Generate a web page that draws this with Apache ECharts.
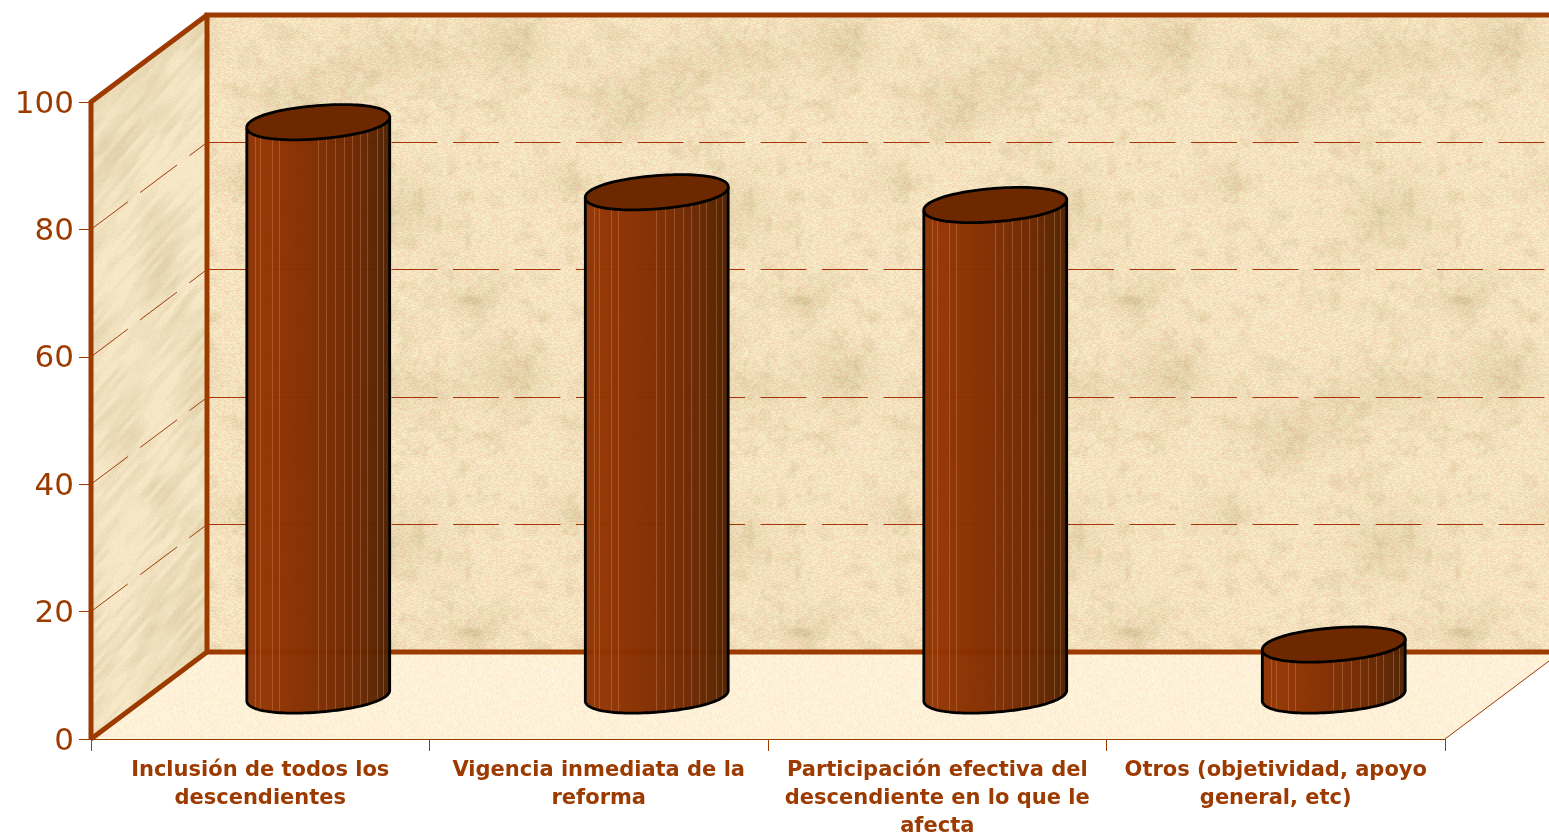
<!DOCTYPE html>
<html>
<head>
<meta charset="utf-8">
<style>html,body{margin:0;padding:0;background:#fff;overflow:hidden}#c{width:1549px;height:835px}</style>
<script src="https://cdn.jsdelivr.net/npm/echarts@6/dist/echarts.min.js"></script>
</head>
<body>
<div id="c"></div>
<script>
var categories = [
  'Inclusión de todos los\ndescendientes',
  'Vigencia inmediata de la\nreforma',
  'Participación efectiva del\ndescendiente en lo que le\nafecta',
  'Otros (objetividad, apoyo\ngeneral, etc)'
];
var values = [90, 79, 77, 8];
var gridValues = [20, 40, 60, 80];
var stripeOffsets = [9, 14, 26, 33, 71.5, 80, 89, 98, 106, 114, 121, 131, 137];

// Perspective of the box: how far the back wall sits behind the axis plane.
var DX = 116, DY = -87;
var RED = '#9c3a00';

// Deterministic texture, used only as wall decoration.
function hash(x, y, s) {
  var n = Math.sin(x * 127.1 + y * 311.7 + s * 74.7) * 43758.5453;
  return n - Math.floor(n);
}
function vnoise(x, y, px, py, s) {
  var xi = Math.floor(x), yi = Math.floor(y), fx = x - xi, fy = y - yi;
  fx = fx * fx * (3 - 2 * fx); fy = fy * fy * (3 - 2 * fy);
  function h(a, b) { return hash(((a % px) + px) % px, ((b % py) + py) % py, s); }
  return (h(xi, yi) * (1 - fx) + h(xi + 1, yi) * fx) * (1 - fy) + (h(xi, yi + 1) * (1 - fx) + h(xi + 1, yi + 1) * fx) * fy;
}
function clamp01(v) { return Math.max(0, Math.min(1, v)); }
function wrapDist(a, b, p) { var d = Math.abs(a - b) % p; return Math.min(d, p - d); }

function backTexture() {
  var w = 330, h = 332, c = document.createElement('canvas'); c.width = w; c.height = h;
  var g = c.getContext('2d'), im = g.createImageData(w, h), d = im.data, i = 0;
  var blobs = [[140, 300, 11, 5, 0.8], [140, 300, 30, 18, 0.35], [180, 43, 38, 28, 0.5], [70, 210, 42, 34, 0.45], [300, 100, 50, 30, 0.4], [230, 180, 30, 20, 0.25], [60, 60, 60, 25, 0.35]];
  for (var y = 0; y < h; y++) for (var x = 0; x < w; x++) {
    var n = 0.55 * vnoise(x / w * 22, y / h * 22, 22, 22, 3) + 0.45 * vnoise(x / w * 55, y / h * 55, 55, 55, 4);
    var m = clamp01((n - 0.47) * 2.6) * 0.42;
    blobs.forEach(function (b) {
      var dx = wrapDist(x, b[0], w) / b[2], dy = wrapDist(y, b[1], h) / b[3];
      m += b[4] * Math.exp(-(dx * dx + dy * dy));
    });
    m = clamp01(m);
    var bx = Math.floor(x / 2), by = y;
    var r = hash(bx, by, 5) - 0.5, r2 = hash(bx, by, 6) - 0.5;
    d[i++] = 246 + (218 - 246) * m + r * 8;
    d[i++] = 227 + (199 - 227) * m + r2 * 26;
    d[i++] = 192 + (156 - 192) * m + r2 * 18 + r * 16;
    d[i++] = 255;
  }
  g.putImageData(im, 0, 0);
  return c;
}
function sideTexture() {
  var w = 240, h = 800, c = document.createElement('canvas'); c.width = w; c.height = h;
  var g = c.getContext('2d'), im = g.createImageData(w, h), d = im.data, i = 0;
  var cs = Math.cos(0.85), sn = Math.sin(0.85);
  for (var y = 0; y < h; y++) for (var x = 0; x < w; x++) {
    var along = x * cs - y * sn + 2000, perp = x * sn + y * cs;
    var n = 0.5 * vnoise(along / 28, perp / 4, 1000, 1000, 7) + 0.5 * vnoise(x / 40, y / 55, 1000, 1000, 8);
    var m = clamp01((n - 0.34) * 1.9) * 0.75;
    var r = hash(x, y, 9) - 0.5;
    d[i++] = 246 + (220 - 246) * m + r * 7;
    d[i++] = 231 + (204 - 231) * m + r * 8;
    d[i++] = 198 + (164 - 198) * m + r * 12;
    d[i++] = 255;
  }
  g.putImageData(im, 0, 0);
  return c;
}
function floorTexture() {
  var w = 200, h = 200, c = document.createElement('canvas'); c.width = w; c.height = h;
  var g = c.getContext('2d'), im = g.createImageData(w, h), d = im.data, i = 0;
  for (var y = 0; y < h; y++) for (var x = 0; x < w; x++) {
    var r = hash(Math.floor(x / 2), y, 11) - 0.5, r2 = hash(x, Math.floor(y / 2), 12) - 0.5;
    d[i++] = 254 + r * 3;
    d[i++] = 241 + r2 * 14;
    d[i++] = 216 + r * 16 + r2 * 8;
    d[i++] = 255;
  }
  g.putImageData(im, 0, 0);
  return c;
}
var backTile = backTexture(), sideTile = sideTexture(), floorTile = floorTexture();

var chart = echarts.init(document.getElementById('c'), null, { renderer: 'canvas', width: 1549, height: 835 });

function poly(points, fill) {
  return { type: 'polygon', shape: { points: points }, style: { fill: { image: fill, repeat: 'repeat' }, stroke: null }, silent: true };
}
function line(points, width, color, dash) {
  return { type: 'polyline', shape: { points: points }, silent: true, style: { fill: null, stroke: color, lineWidth: width, lineDash: dash || null, lineJoin: 'miter' } };
}

function renderBox(params, api) {
  var cs = params.coordSys, l = cs.x, r = cs.x + cs.width, t = cs.y, b = cs.y + cs.height;
  var bl = l + DX, br = r + DX, bt = t + DY, bb = b + DY;
  return { type: 'group', children: [
    poly([[bl, bt], [br, bt], [br, bb], [bl, bb]], backTile),
    poly([[l, b], [r, b], [br, bb], [bl, bb]], floorTile),
    poly([[l, t], [bl, bt], [bl, bb], [l, b]], sideTile),
    line([[r, b], [br, bb]], 1, RED),
    line([[br, bt], [bl, bt], [bl, bb], [br, bb]], 5, RED),
    line([[l, b], [l, t], [bl, bt]], 5, RED),
    line([[l, b], [bl, bb]], 5, RED)
  ]};
}
function renderGrid(params, api) {
  var p = api.coord([0, api.value(1)]), cs = params.coordSys, x = cs.x, y = p[1];
  var backY = Math.floor(y + DY) + 0.5, dash = [46, 15.5];
  return { type: 'group', children: [
    line([[x, y], [x + DX, backY]], 1, '#a33a0c', dash),
    line([[x + DX, backY], [x + cs.width + DX, backY]], 1, '#a8340a', dash)
  ]};
}
function ellipsePts(cx, cy, a, b, rot, from, to, n) {
  var out = [], c = Math.cos(rot), s = Math.sin(rot), pw = 0.95;
  function sp(v) { return (v < 0 ? -1 : 1) * Math.pow(Math.abs(v), pw); }
  for (var i = 0; i <= n; i++) {
    var t = from + (to - from) * i / n, ex = a * sp(Math.cos(t)), ey = b * sp(Math.sin(t));
    out.push([cx + ex * c - ey * s, cy + ex * s + ey * c]);
  }
  return out;
}
function renderBar(params, api) {
  var i = api.value(0), v = api.value(1);
  var top = api.coord([i, v]), base = api.coord([i, 0]);
  var cx = top[0] + DX / 2, ty = top[1] + DY / 2, by = base[1] + DY / 2;
  var a = 71.7, b = 16.6, rot = -4.55 * Math.PI / 180;
  var t0 = Math.atan2(b * Math.sin(rot), a * Math.cos(rot)); // t of rightmost point
  var tEnd = t0 + Math.PI;
  var lowerTop = ellipsePts(cx, ty, a, b, rot, t0, tEnd, 60);
  var lowerBase = ellipsePts(cx, by, a, b, rot, t0, tEnd, 60);
  var body = lowerBase.concat(lowerTop.slice().reverse());
  var left = lowerTop[60][0];
  function yAt(arr, x) {
    var best = arr[0];
    arr.forEach(function (p) { if (Math.abs(p[0] - x) < Math.abs(best[0] - x)) best = p; });
    return best[1];
  }
  var kids = [{ type: 'polygon', shape: { points: body }, silent: true, style: {
    stroke: null, opacity: 0.97,
    fill: { type: 'linear', x: 0, y: 0, x2: 1, y2: 0, colorStops: [
      { offset: 0, color: '#8a3206' }, { offset: 0.08, color: '#933402' }, { offset: 0.28, color: '#8b3000' },
      { offset: 0.55, color: '#7a2b00' }, { offset: 0.78, color: '#692600' }, { offset: 0.93, color: '#562200' }, { offset: 1, color: '#4c1e00' }
    ] } } }];
  stripeOffsets.forEach(function (o) {
    var x = Math.floor(left + o) + 0.5;
    kids.push({ type: 'line', silent: true, shape: { x1: x, y1: yAt(lowerTop, x), x2: x, y2: yAt(lowerBase, x) },
      style: { stroke: 'rgba(235,175,130,0.28)', lineWidth: 1 } });
  });
  kids.push({ type: 'polyline', silent: true, shape: { points: [lowerTop[60]].concat(lowerBase.slice().reverse()).concat([lowerTop[0]]) },
    style: { fill: null, stroke: '#000', lineWidth: 2.8 } });
  kids.push({ type: 'polygon', silent: true, shape: { points: ellipsePts(cx, ty, a, b, rot, 0, Math.PI * 2, 120) },
    style: { fill: '#6e2800', stroke: '#000', lineWidth: 2.8 } });
  return { type: 'group', children: kids };
}

chart.setOption({
  animation: false,
  backgroundColor: '#fff',
  grid: { left: 91, top: 102, width: 1354, height: 637, containLabel: false, outerBoundsMode: 'none' },
  xAxis: {
    type: 'category', data: categories, boundaryGap: true,
    axisLine: { show: true, lineStyle: { color: RED, width: 1 } },
    axisTick: { show: true, alignWithLabel: false, length: 12, lineStyle: { color: RED, width: 1 } },
    axisLabel: { color: RED, fontFamily: 'DejaVu Sans', fontWeight: 'bold', fontSize: 21, lineHeight: 28, margin: 18, interval: 0 },
    splitLine: { show: false }
  },
  yAxis: {
    type: 'value', min: 0, max: 100, interval: 20,
    axisLine: { show: true, lineStyle: { color: RED, width: 1 } },
    axisTick: { show: true, length: 12, lineStyle: { color: RED, width: 1 } },
    axisLabel: {
      margin: 17, formatter: '{n|{value}}',
      rich: { n: { color: RED, fontFamily: 'DejaVu Sans', fontSize: 31, padding: [5, 0, 0, 0] } }
    },
    splitLine: { show: false }
  },
  series: [
    { type: 'custom', name: 'box', renderItem: renderBox, data: [[0, 0]], z: 1, silent: true, clip: false },
    { type: 'custom', name: 'grid', renderItem: renderGrid, data: gridValues.map(function (v) { return [0, v]; }), z: 2, silent: true, clip: false },
    { type: 'custom', name: 'bars', renderItem: renderBar, data: values.map(function (v, i) { return [i, v]; }), encode: { x: 0, y: 1 }, z: 3, silent: true, clip: false }
  ]
});
</script>
</body>
</html>
